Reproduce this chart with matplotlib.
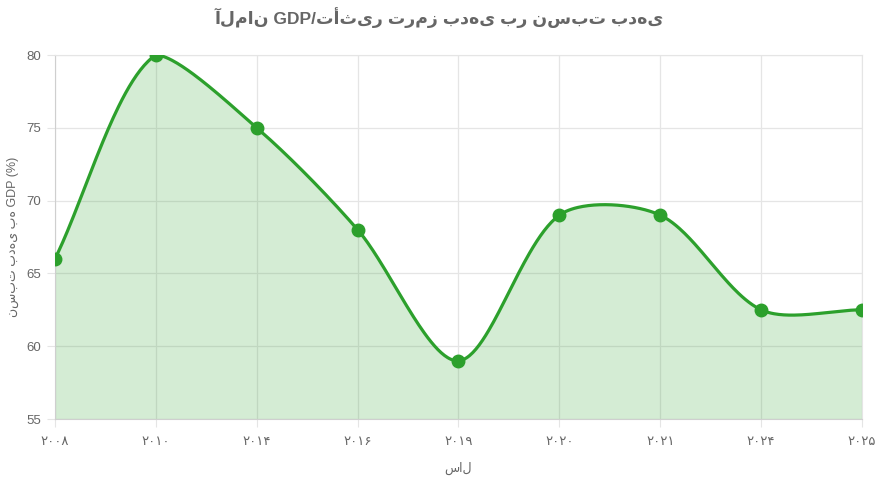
import numpy as np
import matplotlib.pyplot as plt

years = ['۲۰۰۸', '۲۰۱۰', '۲۰۱۴', '۲۰۱۶', '۲۰۱۹', '۲۰۲۰', '۲۰۲۱', '۲۰۲۴', '۲۰۲۵']
debt_ratio = [66, 80, 75, 68, 59, 69, 69, 62.5, 62.5]

title = 'آلمان GDP/تأثیر ترمز بدهی بر نسبت بدهی'
xlabel = 'سال'
ylabel = 'نسبت بدهی به GDP (%)'

green = '#2ca02c'

plt.rcParams['font.family'] = ['Liberation Sans', 'DejaVu Sans']

fig = plt.figure(figsize=(8.79, 4.78), dpi=100)
ax = fig.add_axes([55/879, 59/478, 807/879, 364/478])
x = np.arange(len(years))
ax.set_xlim(0, len(years) - 1)
ax.set_ylim(55, 80)


# smooth line like chart.js, control points worked out in pixels
def spline_pixels(pts, tension=0.3):
    bb = ax.bbox
    n = len(pts)
    cp_prev = np.zeros_like(pts)
    cp_next = np.zeros_like(pts)
    for i in range(n):
        prev = pts[max(i - 1, 0)]
        cur = pts[i]
        nxt = pts[min(i + 1, n - 1)]
        d01 = np.hypot(*(cur - prev))
        d12 = np.hypot(*(nxt - cur))
        tot = d01 + d12
        s01 = d01 / tot if tot else 0
        s12 = d12 / tot if tot else 0
        cp_prev[i] = cur - tension * s01 * (nxt - prev)
        cp_next[i] = cur + tension * s12 * (nxt - prev)
    for cp in (cp_prev, cp_next):
        cp[:, 0] = np.clip(cp[:, 0], bb.x0, bb.x1)
        cp[:, 1] = np.clip(cp[:, 1], bb.y0, bb.y1)
    out = []
    t = np.linspace(0, 1, 60)[:, None]
    for i in range(n - 1):
        p0, p1, p2, p3 = pts[i], cp_next[i], cp_prev[i + 1], pts[i + 1]
        seg = ((1 - t)**3 * p0 + 3 * (1 - t)**2 * t * p1
               + 3 * (1 - t) * t**2 * p2 + t**3 * p3)
        out.append(seg if i == 0 else seg[1:])
    return np.vstack(out)


pix = ax.transData.transform(np.column_stack([x, debt_ratio]))
curve = ax.transData.inverted().transform(spline_pixels(pix))

ax.fill_between(curve[:, 0], curve[:, 1], 55, color=green, alpha=0.2, lw=0, zorder=2)
ax.plot(curve[:, 0], curve[:, 1], color=green, lw=2.3, zorder=3, solid_capstyle='round')
ax.plot(x, debt_ratio, 'o', color=green, ms=9, zorder=4)

ax.set_xticks(x)
ax.set_xticklabels(years)
ax.set_yticks(np.arange(55, 81, 5))
ax.grid(True, color='#e5e5e5', lw=0.9, zorder=0)
ax.set_axisbelow(True)
for s in ax.spines.values():
    s.set_color('#e5e5e5')
ax.spines['left'].set_color('#cfcfcf')
ax.spines['bottom'].set_color('#cfcfcf')
ax.tick_params(axis='both', length=6, color='#e5e5e5', labelcolor='#666666', labelsize=9.5)
ax.tick_params(axis='x', pad=6)
ax.tick_params(axis='y', pad=4)

ax.set_xlabel(xlabel, color='#666666', fontsize=9, labelpad=10)
ax.set_ylabel(ylabel, color='#666666', fontsize=9, labelpad=5)
fig.suptitle(title, x=0.5, y=0.985, fontsize=12.5, fontweight='bold', color='#666666')

fig.savefig('out.png', dpi=100)
